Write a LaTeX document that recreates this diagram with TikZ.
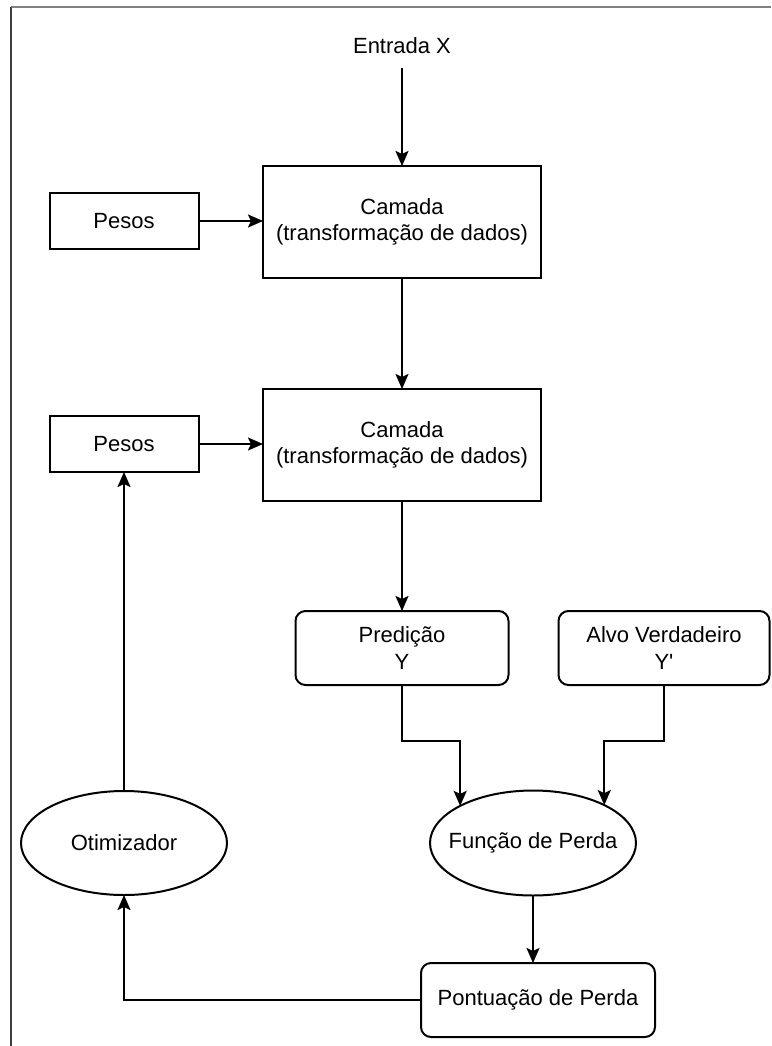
\documentclass[tikz,border=0pt]{standalone}
\usepackage{fontspec}
\setmainfont{Liberation Sans}
\usetikzlibrary{arrows.meta,shapes.geometric}
\begin{document}
\begin{tikzpicture}[x=1pt,y=-1pt,
  every node/.style={font=\fontsize{22}{26.4}\selectfont, align=center, inner sep=0pt, outer sep=0pt},
  box/.style={draw, line width=2pt, rectangle},
  rbox/.style={draw, line width=2pt, rectangle, rounded corners=10pt},
  oval/.style={draw, line width=2pt, ellipse},
  arr/.style={line width=2pt, -{Stealth[length=15pt,width=13pt,inset=3pt]}},
  link/.style={line width=2pt}
]
\useasboundingbox (0,0) rectangle (771,1046);
% page frame
\draw[gray, line width=1.6pt] (11,7) -- (771,7);
\draw[black!75, line width=1.6pt] (11,7) -- (11,1046);

% nodes
\node (in) at (402,46) {Entrada X};
\node[box, minimum width=278pt, minimum height=112pt] (c1) at (402,222) {Camada\\(transformação de dados)};
\node[box, minimum width=149pt, minimum height=56pt] (p1) at (124,221) {Pesos};
\node[box, minimum width=278pt, minimum height=112pt] (c2) at (402,445) {Camada\\(transformação de dados)};
\node[box, minimum width=149pt, minimum height=56pt] (p2) at (124,444) {Pesos};
\node[rbox, minimum width=213pt, minimum height=74pt] (pred) at (402,648) {Predição\\Y};
\node[rbox, minimum width=211pt, minimum height=74pt] (alvo) at (664,648) {Alvo Verdadeiro\\Y\textquotesingle};
% ellipses: outline and caption are separate so the outline keeps its size
\node[oval, minimum width=206pt, minimum height=105pt] (fp) at (533,843) {};
\node (fptext) at (fp.center) {Função de Perda};
\node[oval, minimum width=206pt, minimum height=104pt] (opt) at (124,843) {};
\node (opttext) at (opt.center) {Otimizador};
\node[rbox, minimum width=234pt, minimum height=74pt] (pp) at (538,1000) {Pontuação de Perda};

% connectors
\draw[arr] (c1.north |- 0,68) -- (c1.north);
\draw[arr] (p1.east) -- (p1.east -| c1.west);
\draw[arr] (c1.south) -- (c2.north);
\draw[arr] (p2.east) -- (p2.east -| c2.west);
\draw[arr] (c2.south) -- (c2.south |- pred.north);
\draw[arr] (pred.south) -- ++(0,56) -| (fp.153);
\draw[arr] (alvo.south) -- ++(0,56) -| (fp.28);
\draw[arr] (fp.south) -- (fp.south |- pp.north);
\draw[arr] (pp.west) -| (opt.south);
\draw[arr] (opt.north) -- (p2.south -| opt.north);
\end{tikzpicture}
\end{document}
